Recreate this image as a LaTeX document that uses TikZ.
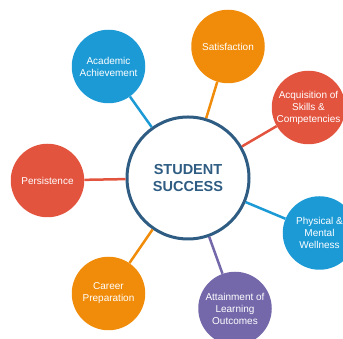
\documentclass[tikz,border=0pt]{standalone}
\usepackage{fontspec}
\setmainfont{Liberation Sans}
\definecolor{ssblue}{HTML}{1B9AD6}
\definecolor{ssorange}{HTML}{F08C0A}
\definecolor{ssred}{HTML}{E3543F}
\definecolor{sspurple}{HTML}{7468AA}
\definecolor{ssnavy}{HTML}{2E5C82}
\begin{document}
\begin{tikzpicture}[x=1pt,y=1pt,
    hub/.style={circle,draw=ssnavy,line width=3pt,fill=white,minimum size=122pt,
      align=center,text=ssnavy,font=\fontsize{14.5}{17.5}\selectfont\bfseries},
    goal/.style={circle,fill=#1,minimum size=73.5pt,inner sep=0pt,align=center,
      text=white,font=\fontsize{10}{12}\selectfont},
    link/.style={#1,line width=2.5pt}]
    \useasboundingbox (0,0) rectangle (343,339);
    %% Hub
    \node[hub] (hub) at (188,161) {STUDENT\\SUCCESS};
    %% Outer circles
    \node[goal=ssblue] (acad) at (108.5,272.5) {Academic\\Achievement};
    \node[goal=ssorange] (satis) at (228,292.5) {Satisfaction};
    \node[goal=ssred] (skills) at (308.5,231.5) {Acquisition of\\Skills \&\\Competencies};
    \node[goal=ssred] (persist) at (47.5,158.5) {Persistence};
    \node[goal=ssblue] (well) at (319.5,106) {Physical \&\\Mental\\Wellness};
    \node[goal=ssorange] (career) at (108.5,45.5) {Career\\Preparation};
    \node[goal=sspurple] (learn) at (235,30.5) {Attainment of\\Learning\\Outcomes};
    %% Links
    \draw[link=ssblue] (hub) -- (acad);
    \draw[link=ssorange] (hub) -- (satis);
    \draw[link=ssred] (hub) -- (skills);
    \draw[link=ssred] (hub) -- (persist);
    \draw[link=ssblue] (hub) -- (well);
    \draw[link=ssorange] (hub) -- (career);
    \draw[link=sspurple] (hub) -- (learn);
\end{tikzpicture}
\end{document}
